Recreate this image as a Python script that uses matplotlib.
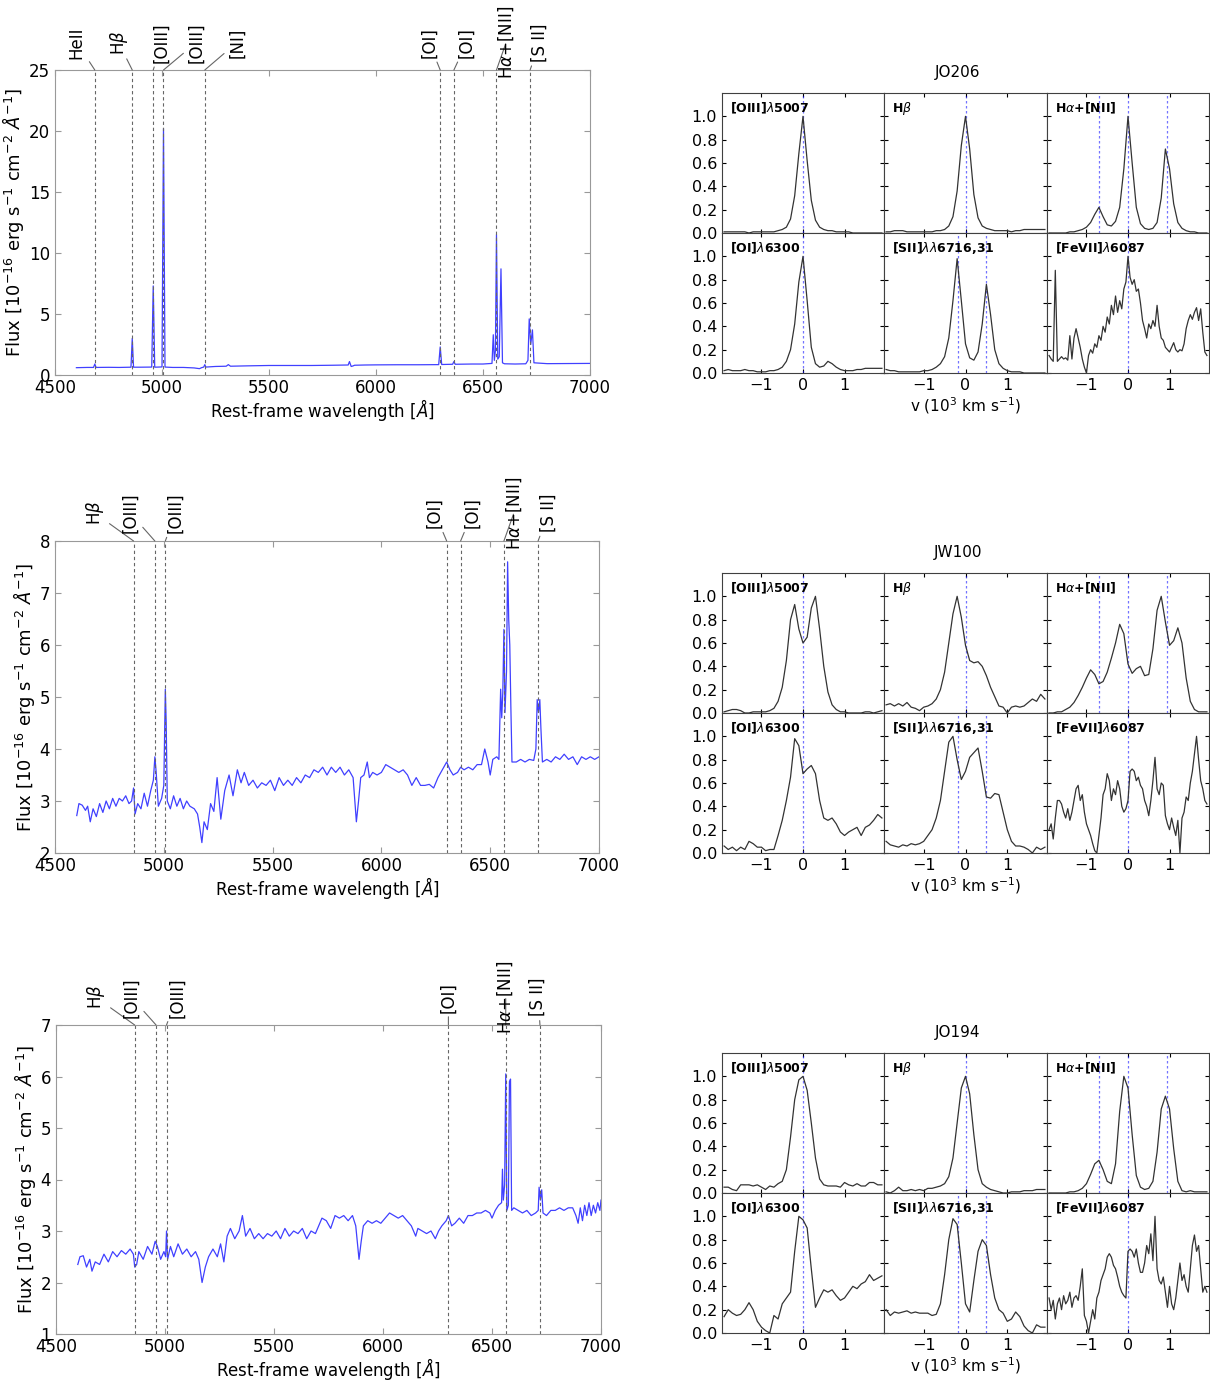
import numpy as np
import matplotlib.pyplot as plt

# ---------------- spectra (rest-frame wavelength, flux) ----------------
jo206_wave = [4600, 4650, 4680, 4686, 4692, 4750, 4800, 4855, 4861, 4867,
              4900, 4952, 4959, 4966, 5000, 5007, 5014, 5050, 5100, 5150,
              5175, 5185, 5195, 5200, 5205, 5250, 5300, 5310, 5320, 5400,
              5500, 5600, 5700, 5800, 5870, 5876, 5884, 5892, 5900, 5950,
              6000, 6100, 6200, 6293, 6300, 6307, 6358, 6364, 6370, 6450,
              6500, 6542, 6548, 6553, 6558, 6563, 6569, 6576, 6584, 6591,
              6600, 6650, 6700, 6710, 6716, 6723, 6731, 6738, 6800, 6900,
              7000]
jo206_flux = [0.60, 0.62, 0.62, 0.90, 0.62, 0.63, 0.62, 0.64, 3.00, 0.64,
              0.64, 0.65, 7.30, 0.64, 0.66, 20.2, 0.65, 0.62, 0.62, 0.58,
              0.52, 0.60, 0.65, 0.85, 0.65, 0.70, 0.72, 0.85, 0.72, 0.75,
              0.78, 0.78, 0.78, 0.80, 0.82, 1.10, 0.70, 0.74, 0.80, 0.82,
              0.83, 0.84, 0.84, 0.85, 2.30, 0.86, 0.88, 1.10, 0.88, 0.90,
              0.90, 0.95, 3.30, 1.20, 2.00, 11.5, 1.30, 1.50, 8.70, 1.00,
              0.92, 0.90, 0.92, 1.20, 4.60, 2.50, 3.70, 1.00, 0.93, 0.94,
              0.95]

jw100_wave = [4600, 4610, 4625, 4640, 4650, 4662, 4675, 4690, 4705, 4720,
              4735, 4750, 4765, 4780, 4795, 4810, 4825, 4840, 4852, 4861,
              4868, 4880, 4895, 4910, 4925, 4940, 4952, 4959, 4965, 4975,
              4990, 5000, 5004, 5007, 5011, 5016, 5030, 5045, 5060, 5075,
              5090, 5105, 5120, 5140, 5155, 5165, 5175, 5185, 5200, 5215,
              5230, 5245, 5262, 5280, 5300, 5318, 5338, 5355, 5370, 5390,
              5410, 5430, 5450, 5470, 5490, 5510, 5530, 5550, 5570, 5590,
              5610, 5630, 5650, 5670, 5690, 5710, 5730, 5750, 5770, 5790,
              5810, 5830, 5850, 5870, 5885, 5895, 5905, 5920, 5935, 5945,
              5960, 5980, 6000, 6020, 6040, 6060, 6080, 6100, 6120, 6140,
              6160, 6180, 6200, 6220, 6240, 6260, 6280, 6300, 6315, 6330,
              6350, 6364, 6380, 6400, 6420, 6440, 6460, 6475, 6490, 6500,
              6512, 6530, 6540, 6548, 6553, 6558, 6563, 6568, 6575, 6580,
              6585, 6590, 6595, 6600, 6620, 6640, 6660, 6680, 6700, 6710,
              6716, 6722, 6728, 6733, 6740, 6760, 6780, 6800, 6820, 6840,
              6860, 6880, 6900, 6920, 6940, 6960, 6980, 7000]
jw100_flux = [2.72, 2.95, 2.92, 2.82, 2.90, 2.60, 2.85, 2.70, 2.95, 2.78,
              3.00, 2.85, 3.05, 2.90, 3.05, 3.00, 3.10, 2.95, 3.00, 3.25,
              2.75, 2.95, 2.85, 3.15, 2.90, 3.20, 3.40, 3.85, 3.55, 2.90,
              3.05, 3.30, 4.30, 5.15, 4.50, 3.00, 2.85, 3.10, 2.90, 3.05,
              2.85, 3.00, 2.90, 2.85, 2.75, 2.50, 2.20, 2.60, 2.45, 2.95,
              2.80, 3.45, 2.65, 3.20, 3.50, 3.10, 3.60, 3.35, 3.55, 3.30,
              3.40, 3.25, 3.35, 3.30, 3.40, 3.20, 3.45, 3.30, 3.40, 3.30,
              3.45, 3.35, 3.50, 3.45, 3.60, 3.55, 3.65, 3.50, 3.65, 3.55,
              3.65, 3.50, 3.60, 3.45, 2.60, 3.00, 3.45, 3.50, 3.75, 3.45,
              3.55, 3.50, 3.55, 3.70, 3.65, 3.60, 3.55, 3.60, 3.50, 3.30,
              3.45, 3.30, 3.30, 3.32, 3.25, 3.45, 3.60, 3.75, 3.60, 3.50,
              3.55, 3.65, 3.60, 3.65, 3.60, 3.70, 3.70, 4.00, 3.75, 3.50,
              3.80, 3.85, 3.80, 5.15, 4.60, 5.10, 6.30, 4.70, 5.50, 7.60,
              6.50, 6.00, 4.80, 3.75, 3.75, 3.80, 3.75, 3.80, 3.78, 4.00,
              4.95, 4.70, 4.95, 4.40, 3.75, 3.80, 3.75, 3.85, 3.80, 3.90,
              3.80, 3.85, 3.70, 3.85, 3.80, 3.85, 3.80, 3.85]

jo194_wave = [4600, 4610, 4625, 4640, 4655, 4665, 4680, 4700, 4720, 4740,
              4760, 4780, 4800, 4820, 4840, 4855, 4861, 4870, 4880, 4900,
              4920, 4940, 4955, 4965, 4980, 4995, 5003, 5007, 5012, 5025,
              5040, 5060, 5080, 5100, 5120, 5140, 5155, 5170, 5185, 5200,
              5220, 5240, 5255, 5270, 5285, 5300, 5320, 5340, 5355, 5370,
              5390, 5410, 5430, 5450, 5470, 5490, 5510, 5530, 5550, 5570,
              5590, 5610, 5630, 5650, 5670, 5690, 5705, 5720, 5740, 5760,
              5780, 5800, 5820, 5840, 5860, 5875, 5890, 5900, 5910, 5930,
              5950, 5970, 5990, 6010, 6030, 6050, 6070, 6090, 6110, 6130,
              6150, 6160, 6180, 6200, 6220, 6240, 6255, 6270, 6290, 6300,
              6315, 6330, 6350, 6370, 6390, 6410, 6430, 6450, 6470, 6490,
              6500, 6515, 6530, 6544, 6548, 6552, 6558, 6563, 6568, 6575,
              6580, 6585, 6590, 6600, 6620, 6640, 6660, 6680, 6700, 6712,
              6716, 6722, 6728, 6734, 6750, 6770, 6790, 6810, 6830, 6850,
              6870, 6885, 6895, 6905, 6915, 6925, 6935, 6945, 6955, 6965,
              6975, 6985, 6995, 7000]
jo194_flux = [2.35, 2.50, 2.52, 2.30, 2.45, 2.22, 2.40, 2.35, 2.55, 2.40,
              2.60, 2.50, 2.62, 2.55, 2.65, 2.55, 2.30, 2.35, 2.60, 2.45,
              2.70, 2.55, 2.80, 2.70, 2.45, 2.60, 2.50, 3.00, 2.45, 2.70,
              2.50, 2.75, 2.55, 2.65, 2.50, 2.60, 2.45, 2.00, 2.30, 2.50,
              2.65, 2.50, 2.75, 2.40, 2.90, 3.05, 2.85, 3.00, 3.30, 2.90,
              3.05, 2.85, 2.95, 2.85, 2.95, 2.90, 3.00, 2.85, 3.05, 2.90,
              3.00, 2.95, 3.05, 2.85, 3.00, 2.95, 3.10, 3.25, 3.20, 3.05,
              3.30, 3.25, 3.30, 3.20, 3.30, 3.10, 2.45, 2.80, 3.10, 3.20,
              3.15, 3.20, 3.15, 3.25, 3.35, 3.30, 3.25, 3.30, 3.20, 3.10,
              2.90, 3.05, 3.00, 2.95, 3.00, 2.85, 3.00, 3.10, 3.20, 3.30,
              3.10, 3.15, 3.25, 3.15, 3.30, 3.30, 3.35, 3.35, 3.40, 3.35,
              3.25, 3.40, 3.50, 3.55, 4.20, 3.60, 3.90, 6.05, 3.40, 3.50,
              5.90, 5.95, 3.40, 3.45, 3.40, 3.35, 3.40, 3.30, 3.35, 3.40,
              3.85, 3.60, 3.80, 3.35, 3.30, 3.40, 3.40, 3.45, 3.40, 3.45,
              3.45, 3.30, 3.15, 3.45, 3.20, 3.50, 3.30, 3.55, 3.30, 3.50,
              3.35, 3.55, 3.40, 3.60]

# emission lines marked on the spectra
jo206_lines = [4686, 4861, 4959, 5007, 5200, 6300, 6364, 6563, 6720]
jo206_names = ['HeII', r'H$\beta$', '[OIII]', '[OIII]', '[NI]', '[OI]', '[OI]',
               r'H$\alpha$+[NII]', '[S II]']
jw100_lines = [4861, 4959, 5007, 6300, 6364, 6563, 6720]
jw100_names = [r'H$\beta$', '[OIII]', '[OIII]', '[OI]', '[OI]',
               r'H$\alpha$+[NII]', '[S II]']
jo194_lines = [4861, 4959, 5007, 6300, 6563, 6720]
jo194_names = [r'H$\beta$', '[OIII]', '[OIII]', '[OI]',
               r'H$\alpha$+[NII]', '[S II]']

# ---------------- line profiles (v in 10^3 km/s, normalised flux) ----------------
v_grid = [-1.9, -1.8, -1.7, -1.6, -1.5, -1.4, -1.3, -1.2, -1.1, -1.0, -0.9, -0.8, -0.7,
          -0.6, -0.5, -0.4, -0.3, -0.2, -0.1, 0.0, 0.1, 0.2, 0.3, 0.4, 0.5, 0.6,
          0.7, 0.8, 0.9, 1.0, 1.1, 1.2, 1.3, 1.4, 1.5, 1.6, 1.7, 1.8, 1.9]
v_fine = [-1.90, -1.85, -1.80, -1.75, -1.70, -1.65, -1.60, -1.55, -1.50, -1.45, -1.40,
          -1.35, -1.30, -1.25, -1.20, -1.15, -1.10, -1.05, -1.00, -0.95, -0.90, -0.85,
          -0.80, -0.75, -0.70, -0.65, -0.60, -0.55, -0.50, -0.45, -0.40, -0.35, -0.30,
          -0.25, -0.20, -0.15, -0.10, -0.05, 0.00, 0.05, 0.10, 0.15, 0.20, 0.25,
          0.30, 0.35, 0.40, 0.45, 0.50, 0.55, 0.60, 0.65, 0.70, 0.75, 0.80,
          0.85, 0.90, 0.95, 1.00, 1.05, 1.10, 1.15, 1.20, 1.25, 1.30, 1.35,
          1.40, 1.45, 1.50, 1.55, 1.60, 1.65, 1.70, 1.75, 1.80, 1.85, 1.90]

jo206_oiii = [0.01, 0.01, 0.01, 0.01, 0.01, 0.01, 0.00, 0.01, 0.01, 0.01, 0.01, 0.01, 0.01,
              0.02, 0.03, 0.05, 0.12, 0.32, 0.68, 1.00, 0.62, 0.28, 0.11, 0.05, 0.03, 0.02,
              0.02, 0.01, 0.01, 0.01, 0.01, 0.00, 0.00, 0.00, 0.00, 0.00, 0.00, 0.00, 0.00]
jo206_hb = [0.01, 0.01, 0.02, 0.02, 0.02, 0.01, 0.01, 0.01, 0.01, 0.01, 0.01, 0.01, 0.02,
            0.02, 0.03, 0.06, 0.14, 0.36, 0.75, 1.00, 0.72, 0.33, 0.13, 0.06, 0.04, 0.03,
            0.02, 0.02, 0.02, 0.02, 0.01, 0.02, 0.02, 0.03, 0.03, 0.03, 0.03, 0.03, 0.03]
jo206_ha = [0.00, 0.00, 0.00, 0.00, 0.00, 0.01, 0.01, 0.02, 0.03, 0.05, 0.09, 0.16, 0.22,
            0.14, 0.07, 0.06, 0.10, 0.22, 0.55, 1.00, 0.60, 0.22, 0.08, 0.04, 0.03, 0.04,
            0.09, 0.30, 0.72, 0.55, 0.25, 0.09, 0.04, 0.02, 0.01, 0.01, 0.00, 0.00, 0.00]
jo206_oi = [0.02, 0.03, 0.02, 0.02, 0.02, 0.03, 0.02, 0.02, 0.01, 0.01, 0.01, 0.02, 0.02,
            0.03, 0.05, 0.10, 0.20, 0.42, 0.78, 1.00, 0.62, 0.22, 0.08, 0.05, 0.06, 0.10,
            0.08, 0.05, 0.03, 0.02, 0.02, 0.02, 0.03, 0.03, 0.04, 0.04, 0.04, 0.04, 0.04]
jo206_sii = [0.03, 0.02, 0.02, 0.01, 0.01, 0.01, 0.01, 0.01, 0.01, 0.02, 0.02, 0.03, 0.05,
             0.08, 0.14, 0.30, 0.62, 0.98, 0.62, 0.25, 0.13, 0.11, 0.18, 0.42, 0.76, 0.50,
             0.20, 0.08, 0.04, 0.02, 0.01, 0.01, 0.01, 0.00, 0.00, 0.00, 0.00, 0.00, 0.00]
jo206_fevii = [0.15, 0.12, 0.10, 0.88, 0.10, 0.12, 0.14, 0.12, 0.13, 0.11, 0.32,
               0.12, 0.30, 0.38, 0.30, 0.22, 0.12, 0.05, 0.00, 0.15, 0.20, 0.17,
               0.25, 0.22, 0.32, 0.28, 0.40, 0.35, 0.48, 0.42, 0.58, 0.50, 0.66,
               0.52, 0.62, 0.55, 0.72, 0.78, 1.00, 0.82, 0.76, 0.80, 0.70, 0.72,
               0.60, 0.45, 0.38, 0.30, 0.42, 0.38, 0.45, 0.40, 0.58, 0.40, 0.30,
               0.28, 0.22, 0.20, 0.18, 0.22, 0.26, 0.20, 0.18, 0.20, 0.19, 0.25,
               0.38, 0.45, 0.50, 0.46, 0.52, 0.56, 0.45, 0.55, 0.35, 0.18, 0.15]

jw100_oiii = [0.01, 0.02, 0.03, 0.03, 0.02, 0.00, 0.00, 0.01, 0.01, 0.01, 0.01, 0.02, 0.04,
              0.10, 0.22, 0.45, 0.80, 0.93, 0.72, 0.60, 0.65, 0.90, 1.00, 0.72, 0.40, 0.18,
              0.07, 0.03, 0.01, 0.01, 0.00, 0.00, 0.00, 0.00, 0.01, 0.01, 0.00, 0.01, 0.02]
jw100_hb = [0.07, 0.08, 0.06, 0.08, 0.06, 0.09, 0.05, 0.04, 0.02, 0.05, 0.06, 0.08, 0.12,
            0.20, 0.35, 0.60, 0.85, 1.00, 0.82, 0.58, 0.45, 0.43, 0.44, 0.40, 0.32, 0.22,
            0.14, 0.06, 0.05, 0.00, 0.05, 0.06, 0.05, 0.06, 0.09, 0.12, 0.10, 0.16, 0.12]
jw100_ha = [0.00, 0.00, 0.01, 0.01, 0.03, 0.05, 0.09, 0.15, 0.22, 0.30, 0.37, 0.33, 0.25,
            0.27, 0.35, 0.47, 0.60, 0.76, 0.68, 0.42, 0.34, 0.38, 0.40, 0.32, 0.33, 0.55,
            0.88, 1.00, 0.78, 0.58, 0.62, 0.73, 0.60, 0.30, 0.10, 0.03, 0.01, 0.01, 0.01]
jw100_oi = [0.06, 0.03, 0.05, 0.02, 0.05, 0.03, 0.10, 0.08, 0.05, 0.05, 0.02, 0.03, 0.03,
            0.15, 0.28, 0.45, 0.65, 0.98, 0.92, 0.68, 0.72, 0.75, 0.68, 0.45, 0.30, 0.28,
            0.30, 0.25, 0.18, 0.15, 0.18, 0.20, 0.22, 0.15, 0.22, 0.24, 0.28, 0.33, 0.30]
jw100_sii = [0.10, 0.07, 0.06, 0.05, 0.07, 0.06, 0.08, 0.07, 0.08, 0.10, 0.15, 0.20, 0.30,
             0.45, 0.70, 0.95, 1.00, 0.80, 0.63, 0.70, 0.82, 0.86, 0.90, 0.70, 0.48, 0.47,
             0.51, 0.50, 0.35, 0.20, 0.10, 0.06, 0.06, 0.05, 0.03, 0.00, 0.05, 0.03, 0.05]
jw100_fevii = [0.20, 0.25, 0.12, 0.30, 0.45, 0.45, 0.42, 0.35, 0.30, 0.38, 0.28,
               0.35, 0.45, 0.55, 0.58, 0.45, 0.50, 0.35, 0.25, 0.20, 0.15, 0.08,
               0.02, 0.00, 0.15, 0.30, 0.50, 0.55, 0.68, 0.62, 0.45, 0.55, 0.50,
               0.62, 0.55, 0.40, 0.35, 0.38, 0.45, 0.70, 0.72, 0.70, 0.62, 0.65,
               0.58, 0.55, 0.45, 0.40, 0.32, 0.45, 0.62, 0.82, 0.55, 0.50, 0.60,
               0.58, 0.32, 0.25, 0.20, 0.30, 0.22, 0.15, 0.28, 0.00, 0.30, 0.35,
               0.48, 0.45, 0.60, 0.70, 0.85, 1.00, 0.80, 0.62, 0.55, 0.45, 0.42]

jo194_oiii = [0.05, 0.05, 0.03, 0.02, 0.07, 0.07, 0.07, 0.06, 0.07, 0.05, 0.03, 0.06, 0.05,
              0.08, 0.10, 0.20, 0.48, 0.80, 0.97, 1.00, 0.88, 0.60, 0.30, 0.12, 0.07, 0.06,
              0.06, 0.06, 0.05, 0.09, 0.07, 0.06, 0.08, 0.06, 0.06, 0.09, 0.09, 0.07, 0.07]
jo194_hb = [0.01, 0.00, 0.02, 0.05, 0.02, 0.02, 0.03, 0.02, 0.03, 0.02, 0.04, 0.04, 0.05,
            0.06, 0.08, 0.14, 0.30, 0.60, 0.90, 1.00, 0.85, 0.50, 0.20, 0.08, 0.05, 0.03,
            0.02, 0.01, 0.00, 0.00, 0.01, 0.01, 0.01, 0.02, 0.02, 0.02, 0.03, 0.03, 0.03]
jo194_ha = [0.00, 0.00, 0.00, 0.00, 0.00, 0.01, 0.01, 0.02, 0.04, 0.08, 0.16, 0.25, 0.28,
            0.20, 0.10, 0.08, 0.25, 0.70, 1.00, 0.90, 0.50, 0.15, 0.05, 0.03, 0.04, 0.10,
            0.35, 0.72, 0.83, 0.72, 0.38, 0.10, 0.02, 0.01, 0.02, 0.01, 0.01, 0.01, 0.01]
jo194_oi = [0.14, 0.20, 0.17, 0.15, 0.16, 0.20, 0.26, 0.20, 0.10, 0.05, 0.02, 0.00, 0.15,
            0.12, 0.25, 0.30, 0.35, 0.70, 1.00, 0.97, 0.90, 0.55, 0.22, 0.30, 0.37, 0.35,
            0.37, 0.32, 0.28, 0.30, 0.35, 0.40, 0.38, 0.42, 0.44, 0.50, 0.45, 0.47, 0.49]
jo194_sii = [0.20, 0.15, 0.18, 0.17, 0.18, 0.19, 0.17, 0.18, 0.17, 0.17, 0.17, 0.15, 0.16,
             0.25, 0.50, 0.80, 0.98, 0.93, 0.60, 0.25, 0.18, 0.45, 0.70, 0.80, 0.75, 0.50,
             0.30, 0.20, 0.17, 0.10, 0.12, 0.18, 0.14, 0.06, 0.02, 0.00, 0.07, 0.05, 0.05]
jo194_fevii = [0.30, 0.20, 0.28, 0.12, 0.25, 0.30, 0.20, 0.32, 0.25, 0.28, 0.35,
               0.22, 0.30, 0.32, 0.28, 0.40, 0.55, 0.15, 0.10, 0.00, 0.10, 0.20,
               0.12, 0.30, 0.35, 0.45, 0.50, 0.55, 0.65, 0.68, 0.65, 0.58, 0.55,
               0.48, 0.40, 0.35, 0.32, 0.30, 0.70, 0.72, 0.70, 0.65, 0.72, 0.60,
               0.52, 0.52, 0.60, 0.75, 0.68, 0.85, 0.62, 1.00, 0.55, 0.45, 0.42,
               0.48, 0.35, 0.22, 0.40, 0.25, 0.20, 0.30, 0.45, 0.60, 0.45, 0.50,
               0.40, 0.35, 0.55, 0.75, 0.84, 0.70, 0.75, 0.55, 0.35, 0.40, 0.35]

profile_names = [r'[OIII]$\lambda$5007', r'H$\beta$', r'H$\alpha$+[NII]',
                 r'[OI]$\lambda$6300', r'[SII]$\lambda\lambda$6716,31', r'[FeVII]$\lambda$6087']
profile_markers = [[0.0], [0.0], [-0.69, 0.0, 0.94], [0.0], [-0.19, 0.5], [0.0]]

# ---------------- layout (pixels) ----------------
W, H = 1210, 1382
fig = plt.figure(figsize=(W / 100, H / 100), dpi=100)


def px_axes(x0, y0, x1, y1):
    return fig.add_axes([x0 / W, 1 - y1 / H, (x1 - x0) / W, (y1 - y0) / H])


def draw_spectrum(box, wave, flux, ylim, lines, names, label_x):
    ax = px_axes(*box)
    ax.plot(wave, flux, color='blue', lw=0.9, alpha=0.75)
    ax.set_xlim(4500, 7000)
    ax.set_ylim(*ylim)
    ax.set_xticks([4500, 5000, 5500, 6000, 6500, 7000])
    for wl, name, lx in zip(lines, names, label_x):
        ax.axvline(wl, color='0.4', ls=(0, (3, 2.5)), lw=0.8)
        ax.annotate(name, xy=(wl, 1), xycoords=('data', 'axes fraction'),
                    xytext=(lx, 1.09), textcoords=('data', 'axes fraction'),
                    rotation=90, ha='center', va='center', fontsize=12,
                    arrowprops=dict(arrowstyle='-', color='0.4', lw=0.8,
                                    shrinkA=1, shrinkB=0),
                    annotation_clip=False)
    ax.tick_params(direction='in', top=True, right=True, labelsize=12,
                   length=4, color='0.6')
    ax.tick_params(axis='x', pad=3)
    for s in ax.spines.values():
        s.set_color('0.6')
    ax.set_ylabel(r'Flux [$10^{-16}$ erg s$^{-1}$ cm$^{-2}$ $\AA^{-1}$]',
                  fontsize=13, labelpad=2)
    ax.set_xlabel(r'Rest-frame wavelength [$\AA$]', fontsize=12, labelpad=0)
    return ax


def draw_profiles(top, galaxy, profiles):
    cols = [722, 884, 1047, 1209]
    rows = [top, top + 140, top + 280]
    fig.text(958 / W, 1 - (top - 21) / H, galaxy, ha='center', va='center', fontsize=11)
    for k, (v, prof) in enumerate(profiles):
        r, c = divmod(k, 3)
        ax = px_axes(cols[c], rows[r], cols[c + 1], rows[r + 1])
        for vm in profile_markers[k]:
            ax.axvline(vm, color='blue', ls=(0, (2, 2)), lw=0.9, alpha=0.55)
        ax.plot(v, prof, color='0.2', lw=0.9)
        ax.set_xlim(-1.95, 1.95)
        ax.set_ylim(0, 1.2)
        ax.set_yticks([0.0, 0.2, 0.4, 0.6, 0.8, 1.0])
        ax.set_xticks([-1, 0, 1])
        ax.tick_params(direction='in', top=True, right=True, labelsize=11.5,
                       length=3, labelleft=(c == 0), labelbottom=(r == 1))
        ax.text(0.05, 0.89, profile_names[k], transform=ax.transAxes,
                fontsize=9, fontweight='bold', va='center', ha='left')
        for s in ax.spines.values():
            s.set_color('0.25')
            s.set_linewidth(0.8)
        if r == 1 and c == 1:
            ax.set_xlabel(r'v ($10^3$ km s$^{-1}$)', fontsize=11, labelpad=2)


draw_spectrum((55, 70, 590, 375), jo206_wave, jo206_flux, (0, 25),
              jo206_lines, jo206_names,
              [4602, 4797, 4999, 5160, 5350, 6248, 6424, 6608, 6765])
draw_spectrum((55, 541, 599, 853), jw100_wave, jw100_flux, (2, 8),
              jw100_lines, jw100_names,
              [4682, 4845, 5055, 6245, 6418, 6609, 6769])
draw_spectrum((56, 1025, 601, 1334), jo194_wave, jo194_flux, (1, 7),
              jo194_lines, jo194_names,
              [4682, 4845, 5055, 6300, 6563, 6712])

draw_profiles(93, 'JO206', [(v_grid, jo206_oiii), (v_grid, jo206_hb), (v_grid, jo206_ha),
                            (v_grid, jo206_oi), (v_grid, jo206_sii), (v_fine, jo206_fevii)])
draw_profiles(573, 'JW100', [(v_grid, jw100_oiii), (v_grid, jw100_hb), (v_grid, jw100_ha),
                             (v_grid, jw100_oi), (v_grid, jw100_sii), (v_fine, jw100_fevii)])
draw_profiles(1053, 'JO194', [(v_grid, jo194_oiii), (v_grid, jo194_hb), (v_grid, jo194_ha),
                              (v_grid, jo194_oi), (v_grid, jo194_sii), (v_fine, jo194_fevii)])

fig.savefig('out.png', dpi=100)
